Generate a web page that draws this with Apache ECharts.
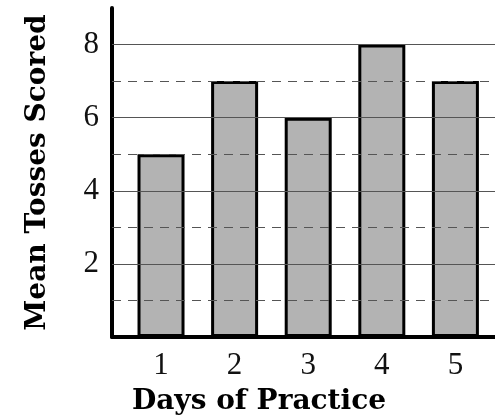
<!DOCTYPE html>
<html><head><meta charset="utf-8">
<script src="https://cdn.jsdelivr.net/npm/echarts@6/dist/echarts.min.js"></script>
<style>html,body{margin:0;padding:0;background:#fff}#c{width:495px;height:415px}</style>
</head><body><div id="c"></div>
<script>
const days = [1, 2, 3, 4, 5];
const meanTosses = [5, 7, 6, 8, 7];
const yTickLabels = [2, 4, 6, 8];
const solidGrid = [2, 4, 6, 8];
const dashedGrid = [1, 3, 5, 7];

const chart = echarts.init(document.getElementById('c'));
chart.setOption({
  animation: false,
  grid: { left: 112, top: 8, right: 0, bottom: 78, containLabel: false, outerBoundsMode: 'none' },
  xAxis: {
    type: 'value', min: 0.334, max: 5.538,
    name: 'Days of Practice', nameLocation: 'middle', nameGap: 51,
    nameTextStyle: { fontFamily: 'DejaVu Serif', fontWeight: 'bold', fontSize: 28, color: '#000', padding: [0, 89, 0, 0] },
    axisLine: { show: true, onZero: false, lineStyle: { color: '#000', width: 4 } },
    axisTick: { show: false },
    splitLine: { show: false },
    axisLabel: { customValues: days, margin: 13, fontFamily: 'Liberation Serif', fontSize: 31, color: '#111' }
  },
  yAxis: {
    type: 'value', min: 0, max: 9,
    name: 'Mean Tosses Scored', nameLocation: 'middle', nameGap: 60,
    nameTextStyle: { fontFamily: 'DejaVu Serif', fontWeight: 'bold', fontSize: 28, color: '#000' },
    axisLine: { show: true, lineStyle: { color: '#000', width: 4 } },
    axisTick: { show: false },
    splitLine: { show: false },
    axisLabel: { customValues: yTickLabels, margin: 13, fontFamily: 'Liberation Serif', fontSize: 31, color: '#111' }
  },
  series: [
    {
      type: 'line', z: 1, data: [], symbol: 'none',
      markLine: {
        silent: true, symbol: 'none', label: { show: false }, animation: false,
        data: solidGrid.map(v => ({ yAxis: v, lineStyle: { type: 'solid', color: '#555', width: 1.2 } }))
          .concat(dashedGrid.map(v => ({ yAxis: v, lineStyle: { type: [9, 7], color: '#555', width: 1.2 } })))
      }
    },
    {
      type: 'bar', z: 3, barWidth: 47,
      data: days.map((d, i) => [d, meanTosses[i]]),
      itemStyle: { color: '#b3b3b3', borderColor: '#000', borderWidth: 3 }
    }
  ]
});
</script></body></html>
